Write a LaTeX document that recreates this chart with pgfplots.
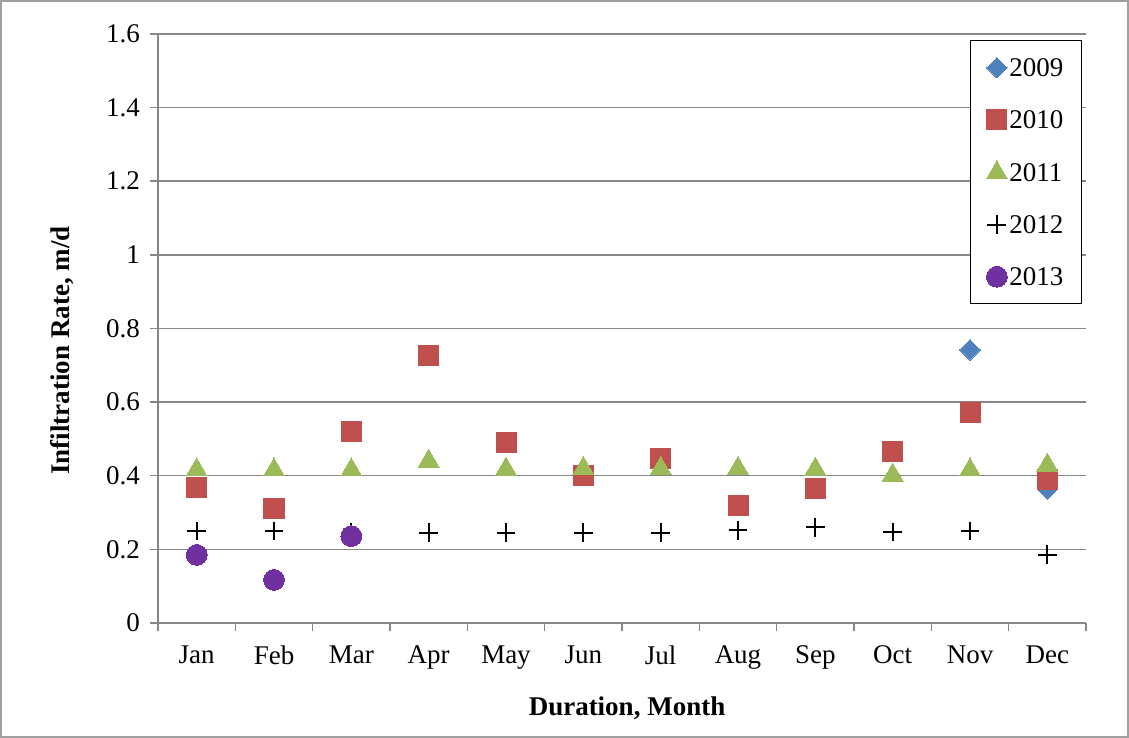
\documentclass[border=0pt]{standalone}
\usepackage{fontspec}
\setmainfont{Liberation Serif}
\usepackage{pgfplots}
\pgfplotsset{compat=1.18}
\definecolor{c09}{RGB}{79,129,189}
\definecolor{c10}{RGB}{192,80,77}
\definecolor{c11}{RGB}{155,187,89}
\definecolor{c13}{RGB}{112,48,160}
\definecolor{gridc}{RGB}{134,134,134}
\definecolor{framec}{RGB}{160,160,160}
\begin{document}
\begin{tikzpicture}
\begin{axis}[name=ax, scale only axis, width=464pt, height=294.5pt,
  xmin=0.5, xmax=12.5, ymin=0, ymax=1.6,
  axis x line*=bottom, axis y line*=left,
  axis line style={gridc, line width=0.75pt},
  xtick={1,2,3,4,5,6,7,8,9,10,11,12},
  xticklabels={Jan,Feb,Mar,Apr,May,Jun,Jul,Aug,Sep,Oct,Nov,Dec},
  minor xtick={0.5,1.5,2.5,3.5,4.5,5.5,6.5,7.5,8.5,9.5,10.5,11.5,12.5},
  major x tick style={draw=none},
  ytick={0,0.2,0.4,0.6,0.8,1,1.2,1.4,1.6},
  yticklabels={0,0.2,0.4,0.6,0.8,1,1.2,1.4,1.6},
  tick align=outside, major tick length=4pt, minor tick length=4pt,
  tick style={gridc, line width=0.75pt},
  ymajorgrids, grid style={gridc, line width=0.75pt},
  tick label style={font=\fontsize{13.5}{15}\selectfont},
  xticklabel style={yshift=-4pt},
  yticklabel style={xshift=-1.5pt},
  every axis y label/.style={at={(axis description cs:-0.1034,0.4626)}, rotate=90, anchor=center, font=\fontsize{13.5}{15}\selectfont\bfseries},
  every axis x label/.style={at={(axis description cs:0.5054,-0.1443)}, anchor=center, font=\fontsize{13.5}{15}\selectfont\bfseries},
  ylabel={Infiltration Rate, m/d},
  xlabel={Duration, Month},
  legend style={at={(axis description cs:0.99569,0.98981)}, anchor=north east,
    draw=black, line width=0.75pt, fill=white, font=\fontsize{13.5}{15}\selectfont,
    row sep=15pt, inner xsep=8pt, inner ysep=8pt,
    nodes={text height=9pt, text depth=0pt, inner sep=1pt}},
  legend cell align=left,
  legend image code/.code={\draw[mark repeat=2,mark phase=2,#1] plot coordinates {(0cm,0cm)(0.3cm,0cm)(0.6cm,0cm)};},
]
\addplot[only marks, mark=square*, mark options={rotate=45, fill=c09, draw=c09, line width=0pt}, mark size=3.6pt]
  coordinates {(11,0.742) (12,0.364)};
\addlegendentry{2009}
\addplot[only marks, mark=square*, mark options={fill=c10, draw=c10, line width=0pt}, mark size=5pt]
  coordinates {(1,0.367) (2,0.310) (3,0.519) (4,0.728) (5,0.489) (6,0.402) (7,0.446) (8,0.318) (9,0.364) (10,0.467) (11,0.573) (12,0.389)};
\addlegendentry{2010}
\addplot[only marks, mark=triangle*, mark options={fill=c11, draw=c11, line width=0pt}, mark size=6pt]
  coordinates {(1,0.416) (2,0.416) (3,0.416) (4,0.440) (5,0.418) (6,0.420) (7,0.420) (8,0.420) (9,0.418) (10,0.402) (11,0.416) (12,0.429)};
\addlegendentry{2011}
\addplot[only marks, mark=+, mark options={draw=black, line width=1pt}, mark size=4.7pt]
  coordinates {(1,0.250) (2,0.250) (3,0.245) (4,0.245) (5,0.245) (6,0.245) (7,0.245) (8,0.252) (9,0.260) (10,0.247) (11,0.250) (12,0.185)};
\addlegendentry{2012}
\addplot[only marks, mark=*, mark options={fill=c13, draw=c13, line width=0pt}, mark size=5.2pt]
  coordinates {(1,0.185) (2,0.117) (3,0.236)};
\addlegendentry{2013}
\end{axis}
\draw[framec, line width=0.75pt] ([xshift=-78.6pt,yshift=-57.1pt]ax.south west) rectangle ([xshift=21.1pt,yshift=16.6pt]ax.north east);
\path ([xshift=-79pt,yshift=-57.5pt]ax.south west) rectangle ([xshift=21.5pt,yshift=17pt]ax.north east);
\end{tikzpicture}
\end{document}
